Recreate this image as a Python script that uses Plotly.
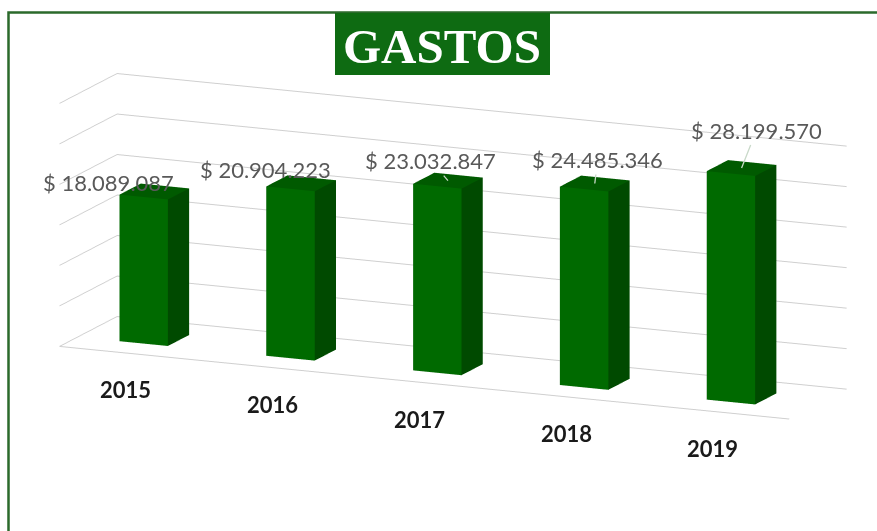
import plotly.graph_objects as go

# ---- data -------------------------------------------------------------
years = ["2015", "2016", "2017", "2018", "2019"]
gastos = [18089087, 20904223, 23032847, 24485346, 28199570]
value_ticks = [0, 5_000_000, 10_000_000, 15_000_000, 20_000_000, 25_000_000, 30_000_000]

# label placement (pixel offset of each value label from its bar top)
label_dx = [-46, -36, -17, 3, 15]
label_dy = [-9, -14, -20, -24, -38]
label_leader = [False, False, True, True, True]

FRONT = "#006a00"
SIDE = "#004a00"
TOP = "#005a00"
BACK = "#005000"

BAR_W = 0.33   # width along the category axis
BAR_D = 0.74   # depth (the floor runs from -1 to 1)


def pesos(v):
    return "$ " + f"{v:,}".replace(",", ".")


# ---- 3D boxes for the columns -----------------------------------------
vx, vy, vz = [], [], []
ti, tj, tk, fc = [], [], [], []
for n, v in enumerate(gastos):
    x0, x1 = n - BAR_W / 2, n + BAR_W / 2
    y0, y1 = -BAR_D / 2, BAR_D / 2
    base = len(vx)
    corners = [(x0, y0, 0), (x1, y0, 0), (x1, y1, 0), (x0, y1, 0),
               (x0, y0, v), (x1, y0, v), (x1, y1, v), (x0, y1, v)]
    for cx, cy, cz in corners:
        vx.append(cx); vy.append(cy); vz.append(cz)
    tris = [((0, 1, 5), FRONT), ((0, 5, 4), FRONT),
            ((1, 2, 6), SIDE), ((1, 6, 5), SIDE),
            ((4, 5, 6), TOP), ((4, 6, 7), TOP),
            ((3, 2, 6), BACK), ((3, 6, 7), BACK),
            ((0, 3, 7), BACK), ((0, 7, 4), BACK),
            ((0, 1, 2), BACK), ((0, 2, 3), BACK)]
    for (a, b, c), col in tris:
        ti.append(base + a); tj.append(base + b); tk.append(base + c)
        fc.append(col)

bars = go.Mesh3d(
    x=vx, y=vy, z=vz, i=ti, j=tj, k=tk,
    facecolor=fc, flatshading=True,
    lighting=dict(ambient=1.0, diffuse=0.0, specular=0.0, roughness=1.0, fresnel=0.0),
    hoverinfo="skip", showscale=False,
)

fig = go.Figure(bars)

# value labels above each column
annotations3d = []
for n, v in enumerate(gastos):
    a = dict(x=n, y=0, z=v, text=pesos(v),
             font=dict(family="Lato", size=22, color="#595959"))
    if label_leader[n]:
        a.update(showarrow=True, ax=label_dx[n], ay=label_dy[n], arrowhead=0,
                 arrowwidth=1.3, arrowcolor="#c9d9c9", standoff=0)
    else:
        a.update(showarrow=False, xshift=label_dx[n], yshift=-label_dy[n])
    annotations3d.append(a)

# category labels in front of the floor
for n, yr in enumerate(years):
    annotations3d.append(dict(x=n, y=-1, z=0, text=f"<b>{yr}</b>", showarrow=False,
                              yshift=-37,
                              font=dict(family="Lato", size=22, color="#1a1a1a")))

grid = "#cfcfcf"
fig.update_layout(
    width=877, height=531,
    margin=dict(l=0, r=0, t=0, b=0),
    paper_bgcolor="white",
    showlegend=False,
    scene=dict(
        domain=dict(x=[0, 1], y=[0, 1]),
        bgcolor="white",
        aspectmode="manual",
        aspectratio=dict(x=3.0, y=0.54, z=0.94),
        xaxis=dict(range=[-0.45, 4.52], showgrid=False, zeroline=False,
                   showline=True, linecolor=grid, linewidth=2,
                   showticklabels=False, ticks="", title="", showbackground=False,
                   showspikes=False),
        yaxis=dict(range=[-1, 1], showgrid=False, zeroline=False, showline=False,
                   showticklabels=False, ticks="", title="", showbackground=False,
                   showspikes=False),
        zaxis=dict(range=[0, 30_000_000], tickvals=value_ticks, showgrid=True,
                   gridcolor=grid, gridwidth=2, zeroline=False, showline=False,
                   showticklabels=False, ticks="", title="", showbackground=False,
                   showspikes=False),
        camera=dict(projection=dict(type="orthographic"),
                    eye=dict(x=0.713, y=-1.766, z=0.370),
                    up=dict(x=0, y=0, z=1),
                    center=dict(x=-0.06, y=0, z=-0.08)),
        annotations=annotations3d,
    ),
    shapes=[
        # outer frame
        dict(type="rect", xref="paper", yref="paper",
             x0=8.5 / 877, x1=1.02, y0=-0.02, y1=1 - 12.5 / 531,
             line=dict(color="#2b6a2b", width=2.5), fillcolor="rgba(0,0,0,0)"),
        # title plate
        dict(type="rect", xref="paper", yref="paper",
             x0=335 / 877, x1=550 / 877, y0=1 - 75 / 531, y1=1 - 13 / 531,
             line=dict(width=0), fillcolor="#0e6b12"),
    ],
    annotations=[
        dict(text="<b>GASTOS</b>", xref="paper", yref="paper",
             x=442 / 877, y=1 - 46 / 531, xanchor="center", yanchor="middle",
             showarrow=False,
             font=dict(family="Liberation Serif", size=49, color="white")),
    ],
)

fig.write_html("out.html")
